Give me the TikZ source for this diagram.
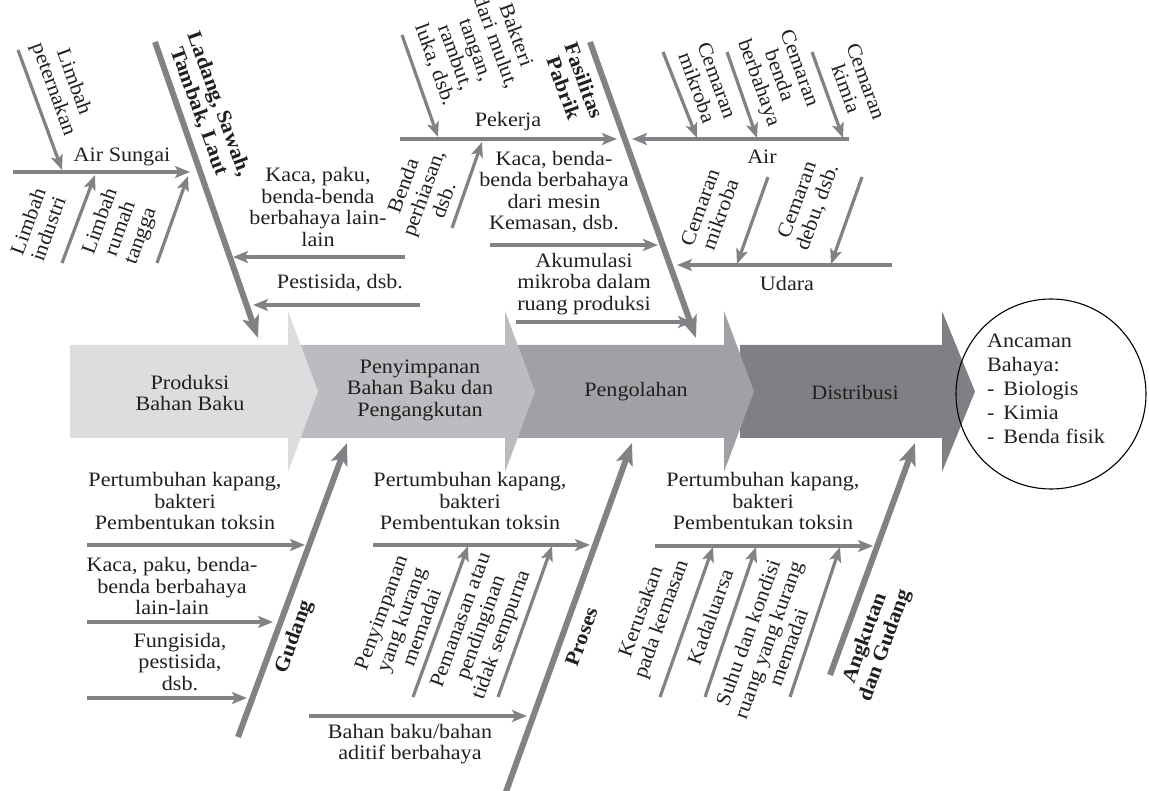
\documentclass[tikz,border=0pt]{standalone}
\usepackage{fontspec}
\setmainfont{Liberation Serif}[FakeStretch=1.08]
\usetikzlibrary{arrows.meta}
\definecolor{ln}{HTML}{808285}
\definecolor{txt}{HTML}{231F20}
\definecolor{bandA}{HTML}{DCDDDF}
\definecolor{bandB}{HTML}{BBBCBF}
\definecolor{bandC}{HTML}{A0A1A4}
\definecolor{bandD}{HTML}{7F8083}
\begin{document}
\begin{tikzpicture}[x=1pt,y=-1pt,
  every node/.style={font=\fontsize{20.5}{21.5}\selectfont, text=txt, inner sep=0pt, align=center},
  bone/.style={draw=ln, line width=6pt, -{Stealth[length=22pt,width=17pt,inset=5pt]}},
  sub/.style={draw=ln, line width=3.2pt, -{Stealth[length=15pt,width=12pt,inset=3.5pt]}},
  boldlbl/.style={font=\bfseries\fontsize{20.5}{21.5}\selectfont},
  up/.style={rotate=70},
  down/.style={rotate=-70}]
\useasboundingbox (0,0) rectangle (1149,791);

% ---- spine bands
\fill[bandD] (740,345) -- (942,345) -- (942,311) -- (975,391.5) -- (942,472) -- (942,438) -- (740,438) -- cycle;
\fill[bandC] (515,345) -- (724,345) -- (724,311) -- (754,391.5) -- (724,472) -- (724,438) -- (515,438) -- cycle;
\fill[bandB] (295,345) -- (505,345) -- (505,311) -- (535,391.5) -- (505,472) -- (505,438) -- (295,438) -- cycle;
\fill[bandA] (70,345) -- (288,345) -- (288,311) -- (318,391.5) -- (288,472) -- (288,438) -- (70,438) -- cycle;
\node (s1) at (190,393) {Produksi\\Bahan Baku};
\node (s2) at (420,390) {Penyimpanan\\Bahan Baku dan\\Pengangkutan};
\node (s3) at (636,392) {Pengolahan};
\node (s4) at (855,392) {Distribusi};

\node[circle, draw=black, line width=1.1pt, minimum size=190pt] (hz) at (1051,394) {};
\node[align=left, font=\fontsize{20.5}{24}\selectfont] (hzt) at (1046,389) {Ancaman\\Bahaya:\\- \,Biologis\\- \,Kimia\\- \,Benda fisik};

% ---- top bone 1: Ladang
\coordinate (b1s) at (155,42); \coordinate (b1e) at (258,338);
\draw[bone] (b1s) -- (b1e);
\node[boldlbl, down] (l1) at (209,108) {Ladang, Sawah,\\Tambak, Laut};

\coordinate (as1) at (13,172); \coordinate (as2) at (190,172);
\draw[sub] (as1) -- (as2);
\node (tas) at (122,157) {Air Sungai};
\coordinate (lp1) at (18,50); \coordinate (lp2) at (62,170);
\draw[sub] (lp1) -- (lp2);
\node[down] (tlp) at (63,86) {Limbah\\peternakan};
\coordinate (li1) at (62,263); \coordinate (li2) at (95,175);
\draw[sub] (li1) -- (li2);
\node[up] (tli) at (38,225) {Limbah\\industri};
\coordinate (lr1) at (157,263); \coordinate (lr2) at (188,176);
\draw[sub] (lr1) -- (lr2);
\node[up] (tlr) at (121,229) {Limbah\\rumah\\tangga};

\node (tk1) at (318,207) {Kaca, paku,\\benda-benda\\berbahaya lain-\\lain};
\coordinate (k1a) at (405,257); \coordinate (k1b) at (233,257);
\draw[sub] (k1a) -- (k1b);
\node (tps) at (340,283) {Pestisida, dsb.};
\coordinate (ps1) at (420,305); \coordinate (ps2) at (253,305);
\draw[sub] (ps1) -- (ps2);

% ---- top bone 2: Fasilitas Pabrik
\coordinate (b2s) at (590,42); \coordinate (b2e) at (696,338);
\draw[bone] (b2s) -- (b2e);
\node[boldlbl, down] (l2) at (574,84) {Fasilitas\\Pabrik};

\coordinate (pk1) at (400,139); \coordinate (pk2) at (617,139);
\draw[sub] (pk1) -- (pk2);
\node (tpk) at (508,122) {Pekerja};
\coordinate (bk1) at (402,35); \coordinate (bk2) at (438,137);
\draw[sub] (bk1) -- (bk2);
\node[down] (tbk) at (475,50) {Bakteri\\dari mulut,\\tangan,\\rambut,\\luka, dsb.};
\coordinate (bp1) at (452,228); \coordinate (bp2) at (482,142);
\draw[sub] (bp1) -- (bp2);
\node[up] (tbp) at (423,193) {Benda\\perhiasan,\\dsb.};

\node (tkb) at (554,192) {Kaca, benda-\\benda berbahaya\\dari mesin\\Kemasan, dsb.};
\coordinate (kb1) at (490,245); \coordinate (kb2) at (658,245);
\draw[sub] (kb1) -- (kb2);
\node (tak) at (584,284) {Akumulasi\\mikroba dalam\\ruang produksi};
\coordinate (ak1) at (516,322); \coordinate (ak2) at (693,322);
\draw[sub] (ak1) -- (ak2);

\coordinate (air1) at (849,139); \coordinate (air2) at (632,139);
\draw[sub] (air1) -- (air2);
\node (tair) at (762,157) {Air};
\coordinate (cm1) at (663,52); \coordinate (cm2) at (697,138);
\draw[sub] (cm1) -- (cm2);
\node[down] (tcm) at (707,84) {Cemaran\\mikroba};
\coordinate (cb1) at (727,52); \coordinate (cb2) at (757,138);
\draw[sub] (cb1) -- (cb2);
\node[down] (tcb) at (778,76) {Cemaran\\benda\\berbahaya};
\coordinate (ck1) at (812,52); \coordinate (ck2) at (843,138);
\draw[sub] (ck1) -- (ck2);
\node[down] (tck) at (856,85) {Cemaran\\kimia};

\coordinate (ud1) at (892,265); \coordinate (ud2) at (677,265);
\draw[sub] (ud1) -- (ud2);
\node (tud) at (787,283) {Udara};
\coordinate (um1) at (768,177); \coordinate (um2) at (737,264);
\draw[sub] (um1) -- (um2);
\node[up] (tum) at (710,211) {Cemaran\\mikroba};
\coordinate (ue1) at (862,177); \coordinate (ue2) at (831,264);
\draw[sub] (ue1) -- (ue2);
\node[up] (tue) at (808,204) {Cemaran\\debu, dsb.};

% ---- bottom bone 1: Gudang
\coordinate (b3s) at (238,737); \coordinate (b3e) at (347,443);
\draw[bone] (b3s) -- (b3e);
\node[boldlbl, up] (l3) at (295,637) {Gudang};
\node (tg1) at (185,501) {Pertumbuhan kapang,\\bakteri\\Pembentukan toksin};
\coordinate (g1a) at (87,545); \coordinate (g1b) at (305,545);
\draw[sub] (g1a) -- (g1b);
\node (tg2) at (172,586) {Kaca, paku, benda-\\benda berbahaya\\lain-lain};
\coordinate (g2a) at (87,622); \coordinate (g2b) at (273,622);
\draw[sub] (g2a) -- (g2b);
\node (tg3) at (180,662) {Fungisida,\\pestisida,\\dsb.};
\coordinate (g3a) at (87,698); \coordinate (g3b) at (247,698);
\draw[sub] (g3a) -- (g3b);

% ---- bottom bone 2: Proses
\coordinate (b4s) at (503,800); \coordinate (b4e) at (632,443);
\draw[bone] (b4s) -- (b4e);
\node[boldlbl, up] (l4) at (582,637) {Proses};
\node (tp1) at (470,501) {Pertumbuhan kapang,\\bakteri\\Pembentukan toksin};
\coordinate (p1a) at (373,545); \coordinate (p1b) at (590,545);
\draw[sub] (p1a) -- (p1b);
\coordinate (py1) at (413,697); \coordinate (py2) at (468,546);
\draw[sub] (py1) -- (py2);
\node[up] (tpy) at (401,620) {Penyimpanan\\yang kurang\\memadai};
\coordinate (pm1) at (498,697); \coordinate (pm2) at (552,546);
\draw[sub] (pm1) -- (pm2);
\node[up] (tpm) at (482,628) {Pemanasan atau\\pendinginan\\tidak sempurna};
\coordinate (bb1) at (309,716); \coordinate (bb2) at (527,716);
\draw[sub] (bb1) -- (bb2);
\node (tbb) at (410,744) {Bahan baku/bahan\\aditif berbahaya};

% ---- bottom bone 3: Angkutan dan Gudang
\coordinate (b5s) at (830,675); \coordinate (b5e) at (915,443);
\draw[bone] (b5s) -- (b5e);
\node[boldlbl, up] (l5) at (876,642) {Angkutan\\dan Gudang};
\node (ta1) at (763,501) {Pertumbuhan kapang,\\bakteri\\Pembentukan toksin};
\coordinate (a1a) at (655,546); \coordinate (a1b) at (873,546);
\draw[sub] (a1a) -- (a1b);
\coordinate (kr1) at (660,697); \coordinate (kr2) at (713,547);
\draw[sub] (kr1) -- (kr2);
\node[up] (tkr) at (652,616) {Kerusakan\\pada kemasan};
\coordinate (kd1) at (705,697); \coordinate (kd2) at (756,547);
\draw[sub] (kd1) -- (kd2);
\node[up] (tkd) at (710,617) {Kadaluarsa};
\coordinate (sh1) at (790,697); \coordinate (sh2) at (840,547);
\draw[sub] (sh1) -- (sh2);
\node[up] (tsh) at (768,640) {Suhu dan kondisi\\ruang yang kurang\\memadai};
\end{tikzpicture}
\end{document}
